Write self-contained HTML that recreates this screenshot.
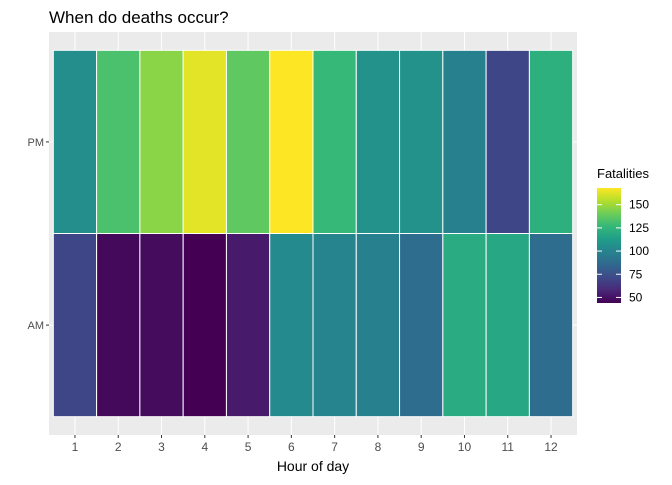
<!DOCTYPE html>
<html><head><meta charset="utf-8"><style>
body{margin:0;background:#fff;}
svg text{font-family:"Liberation Sans",Arial,sans-serif;}
</style></head><body>
<svg id="c" width="672" height="480" xmlns="http://www.w3.org/2000/svg">
<rect width="672" height="480" fill="#fff"/>
<text x="49" y="23" font-size="17" fill="#000">When do deaths occur?</text>
<rect x="49" y="32" width="528" height="403" fill="#EBEBEB"/>
<g id="grid"></g><g id="tiles"></g><g id="axes"></g>
<text x="313" y="471" font-size="14" text-anchor="middle" fill="#000">Hour of day</text>
<text x="597" y="178" font-size="13" fill="#000">Fatalities</text>
<defs><linearGradient id="lg" x1="0" y1="1" x2="0" y2="0"></linearGradient></defs>
<rect x="597" y="188" width="24" height="115" fill="url(#lg)"/>
<g id="leg"></g>
</svg>
<script>
const hours=["1","2","3","4","5","6","7","8","9","10","11","12"];
const periods=["AM","PM"];
const pmValues=[105,132,146,163,137,168,127,107,107,98,70,122];
const amValues=[70,47,48,44,53,103,100,98,88,120,118,88];
const legendTicks=[50,75,100,125,150];
const vmin=44,vmax=168;
const NS="http://www.w3.org/2000/svg";
const vir=["#440154","#482878","#3E4A89","#31688E","#26828E","#1F9E89","#35B779","#6DCD59","#B4DE2C","#FDE725"];
function hex(h){return [1,3,5].map(i=>parseInt(h.substr(i,2),16));}
function col(v){let t=Math.max(0,Math.min(1,(v-vmin)/(vmax-vmin)))*(vir.length-1);let i=Math.min(Math.floor(t),vir.length-2),f=t-i;let a=hex(vir[i]),b=hex(vir[i+1]);return "rgb("+a.map((x,k)=>Math.round(x+(b[k]-x)*f)).join(",")+")";}
const px0=49,pw=528,py0=32,ph=403;
const bw=pw/(hours.length+0.2),bh=ph/(periods.length+0.2);
function xc(i){return px0+bw*(0.6+i);}
function yc(j){return py0+ph-bh*(0.6+j);}
function mk(tag,at,parent){const e=document.createElementNS(NS,tag);for(const k in at)e.setAttribute(k,at[k]);parent.appendChild(e);return e;}
const grid=document.getElementById('grid'),tiles=document.getElementById('tiles'),axes=document.getElementById('axes');
hours.forEach((h,i)=>{const l=mk('line',{x1:xc(i),x2:xc(i),y1:py0,y2:py0+ph,stroke:'#fff','stroke-width':1},grid);
});
periods.forEach((p,j)=>{const l=mk('line',{x1:px0,x2:px0+pw,y1:yc(j),y2:yc(j),stroke:'#fff','stroke-width':1},grid);
});
[amValues,pmValues].forEach((vals,j)=>{vals.forEach((v,i)=>{
const r=mk('rect',{x:xc(i)-bw/2,y:yc(j)-bh/2,width:bw,height:bh,fill:col(v),stroke:'#fff','stroke-width':1},tiles);

});});
hours.forEach((h,i)=>{mk('line',{x1:xc(i),x2:xc(i),y1:py0+ph,y2:py0+ph+3,stroke:'#333'},axes);
const t=mk('text',{x:xc(i),y:py0+ph+16,'font-size':12,'text-anchor':'middle',fill:'#4D4D4D'},axes);t.textContent=h;
});
periods.forEach((p,j)=>{mk('line',{x1:px0-3,x2:px0,y1:yc(j),y2:yc(j),stroke:'#333'},axes);
const t=mk('text',{x:px0-5,y:yc(j)+4,'font-size':11,'text-anchor':'end',fill:'#4D4D4D'},axes);t.textContent=p;
});
const lg=document.getElementById('lg');
vir.forEach((c,k)=>mk('stop',{offset:(k/(vir.length-1)),'stop-color':c},lg));
const leg=document.getElementById('leg');const ly0=188,lh=115;
legendTicks.forEach(v=>{const y=ly0+lh-(v-vmin)/(vmax-vmin)*lh;
mk('line',{x1:597,x2:602,y1:y,y2:y,stroke:'#fff'},leg);mk('line',{x1:616,x2:621,y1:y,y2:y,stroke:'#fff'},leg);
const t=mk('text',{x:629,y:y+4,'font-size':12,fill:'#000'},leg);t.textContent=v;
});
</script>
</body></html>
